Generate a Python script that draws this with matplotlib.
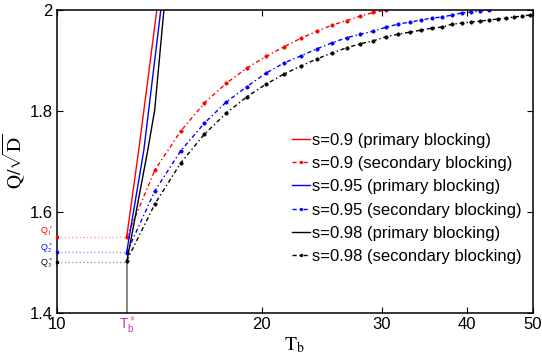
import matplotlib
matplotlib.use("Agg")
import matplotlib.pyplot as plt
from matplotlib.ticker import FixedLocator, NullLocator, FixedFormatter

plt.rcParams['font.family'] = ['Liberation Sans', 'DejaVu Sans']
plt.rcParams['mathtext.fontset'] = 'custom'
plt.rcParams['mathtext.rm'] = 'STIXGeneral'
plt.rcParams['mathtext.it'] = 'STIXGeneral:italic'
plt.rcParams['mathtext.sf'] = 'Liberation Sans'

# critical point
tb_star = 12.66
q_star = [1.55, 1.52, 1.50]          # Q1*, Q2*, Q3*

# primary blocking (nearly vertical lines)
t_prim_09 = [12.66, 13.19, 14.02]
q_prim_09 = [1.55, 1.723, 2.0]
t_prim_095 = [12.66, 13.42, 14.21]
q_prim_095 = [1.52, 1.723, 2.0]
t_prim_098 = [12.66, 13.60, 13.92, 14.36]
q_prim_098 = [1.50, 1.723, 1.802, 2.0]

# secondary blocking
t_sec = [12.66, 13.93, 15.20, 16.47, 17.74, 19.01, 20.28, 21.55, 22.82, 24.09,
         25.36, 26.63, 27.90, 29.17, 30.44, 31.71, 32.98, 34.25, 35.52, 36.79,
         38.06, 39.33, 40.60, 41.87, 43.14, 44.41, 45.68, 46.95, 48.22, 49.49]
q_sec_09 = [1.550, 1.683, 1.760, 1.816, 1.855, 1.885, 1.908, 1.927, 1.944, 1.958,
            1.970, 1.979, 1.988, 1.995, 2.000]
q_sec_095 = [1.519, 1.642, 1.721, 1.776, 1.818, 1.848, 1.875, 1.895, 1.909, 1.923,
             1.935, 1.945, 1.952, 1.958, 1.966, 1.972, 1.976, 1.980, 1.984, 1.986,
             1.990, 1.994, 1.996, 1.998, 2.000]
q_sec_098 = [1.503, 1.616, 1.697, 1.754, 1.796, 1.828, 1.853, 1.873, 1.889, 1.903,
             1.915, 1.925, 1.933, 1.939, 1.947, 1.952, 1.956, 1.960, 1.964, 1.966,
             1.972, 1.974, 1.976, 1.978, 1.980, 1.982, 1.984, 1.986, 1.988, 1.990]

x_ticks = [10, 20, 30, 40, 50]
y_ticks = [1.4, 1.6, 1.8, 2.0]
y_tick_labels = ['1.4', '1.6', '1.8', '2']

colors = ['red', 'blue', 'black']
light = ['#ff9b9b', '#9b9bff', '#a0a0a0']
q_names = [r'$\mathsf{Q}^*_1$', r'$\mathsf{Q}^*_2$', r'$\mathsf{Q}^*_3$']
q_label_shift = [0.012, 0.009, -0.002]

fig = plt.figure(figsize=(5.42, 3.56), dpi=100)
ax = fig.add_axes([0.105, 0.121, 0.878, 0.851])

# guide lines at the critical point
ax.plot([tb_star, tb_star], [1.4, q_star[2]], color='#808080', lw=1.3, zorder=1)
for q, c, lc, name, dq in zip(q_star, colors, light, q_names, q_label_shift):
    ax.plot([10, tb_star], [q, q], ls=':', color=lc, lw=1.0, zorder=1)
    ax.plot([10], [q], 's', color=c, ms=2.0, clip_on=False, zorder=3)
    ax.text(9.87, q + dq, name, color=c, fontsize=6.5, ha='right', va='center')

prim = [(t_prim_09, q_prim_09), (t_prim_095, q_prim_095), (t_prim_098, q_prim_098)]
sec = [q_sec_09, q_sec_095, q_sec_098]
svals = ['0.9', '0.95', '0.98']
for (tp, qp), qs, c, s in zip(prim, sec, colors, svals):
    ax.plot(tp, qp, '-', color=c, lw=1.0, label='s=%s (primary blocking)' % s)
    ax.plot(t_sec[:len(qs)], qs, color=c, lw=1.0, dashes=(3, 2, 1, 2),
            marker='o', ms=2.4, mew=0.5,
            label='s=%s (secondary blocking)' % s)

ax.set_xscale('log')
ax.set_xlim(10, 50)
ax.set_ylim(1.4, 2.0)
ax.xaxis.set_major_locator(FixedLocator(x_ticks))
ax.xaxis.set_major_formatter(FixedFormatter([str(v) for v in x_ticks]))
ax.xaxis.set_minor_locator(NullLocator())
ax.yaxis.set_major_locator(FixedLocator(y_ticks))
ax.yaxis.set_major_formatter(FixedFormatter(y_tick_labels))
ax.tick_params(direction='in', top=True, right=True, length=4, width=0.8,
               labelsize=12, pad=3)
for sp in ax.spines.values():
    sp.set_linewidth(1.1)

ax.text(tb_star, 1.396, r'$\mathsf{T}_\mathsf{b}^*$', color='#cc33aa', fontsize=10,
        ha='center', va='top')

ax.set_xlabel(r'$\mathrm{T}_\mathrm{b}$', fontsize=14, labelpad=2)
ax.set_ylabel(r'$\mathrm{Q}/\sqrt{\mathrm{D}}$', fontsize=14)
ax.yaxis.set_label_coords(-0.062, 0.5)

ax.legend(loc='upper left', bbox_to_anchor=(0.494, 0.595), frameon=False,
          fontsize=12, handlelength=1.1, handletextpad=0.1, labelspacing=0.5,
          borderpad=0, borderaxespad=0, markerscale=0.8)

fig.savefig('out.png', dpi=100)
